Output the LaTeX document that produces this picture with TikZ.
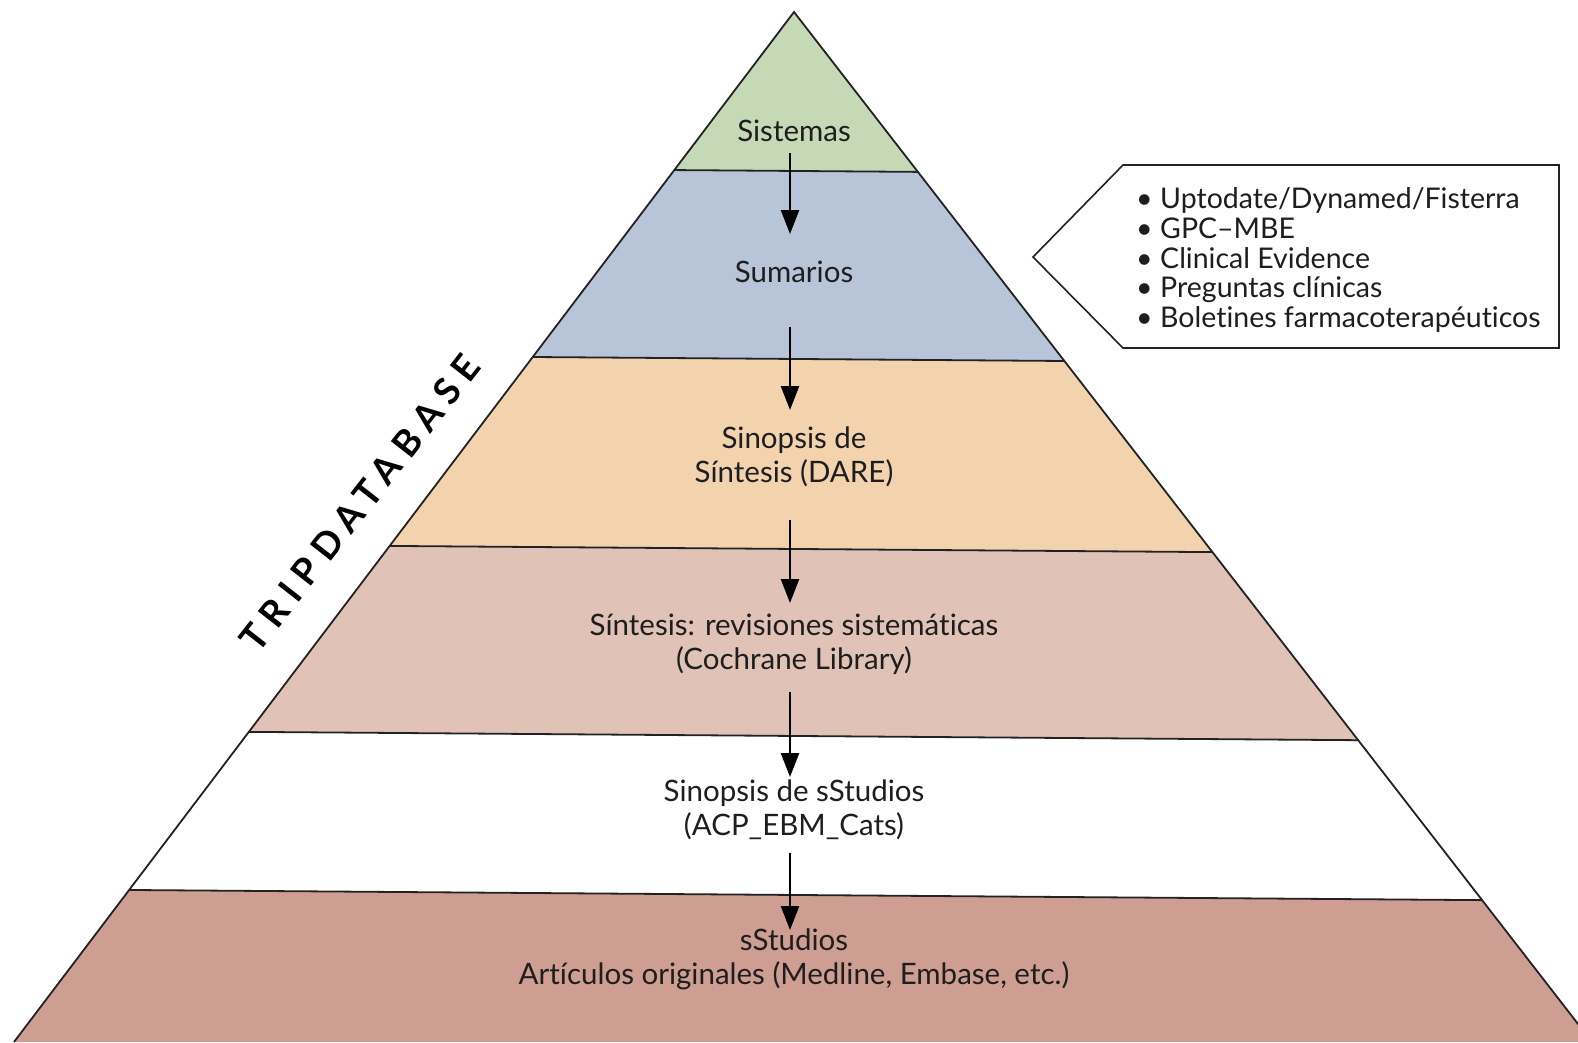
\documentclass[tikz,border=0pt]{standalone}
\usepackage{fontspec}
\setmainfont{Lato}[Ligatures={NoCommon}]
\usetikzlibrary{arrows.meta}
\definecolor{cSis}{HTML}{C6D9B7}
\definecolor{cSum}{HTML}{B8C4D8}
\definecolor{cSin}{HTML}{F2D3AE}
\definecolor{cRev}{HTML}{E0C2B6}
\definecolor{cEst}{HTML}{CF9E92}
\definecolor{cLine}{HTML}{222222}
\definecolor{cText}{HTML}{1E1E1E}
\tikzset{
  lbl/.style={align=center, text=cText, font=\fontsize{29.5}{34}\selectfont, inner sep=0pt},
  itm/.style={anchor=base west, text=cText, font=\fontsize{28.5}{30}\selectfont, inner sep=0pt},
  arr/.style={line width=2.5pt, -{Triangle[length=24pt,width=18pt]}, draw=black},
  bline/.style={line width=1.8pt, draw=cLine},
}
\begin{document}
\begin{tikzpicture}[x=1pt,y=-1pt]
\useasboundingbox (0,0) rectangle (1578,1042);
\fill[white] (0,0) rectangle (1578,1042);
% pyramid layers
\begin{scope}
\clip (794,12) -- (14,1042) -- (1592,1042) -- cycle;
\fill[cSis] (0,-10) -- (1600,-10) -- (1600,177) -- (0,165) -- cycle;
\fill[cSum] (0,165) -- (1600,177) -- (1600,365) -- (0,353) -- cycle;
\fill[cSin] (0,353) -- (1600,365) -- (1600,555) -- (0,543) -- cycle;
\fill[cRev] (0,543) -- (1600,555) -- (1600,742) -- (0,730) -- cycle;
\fill[white] (0,730) -- (1600,742) -- (1600,901) -- (0,889) -- cycle;
\fill[cEst] (0,889) -- (1600,901) -- (1600,1060) -- (0,1060) -- cycle;
\draw[bline] (0,165) -- (1600,177);
\draw[bline] (0,353) -- (1600,365);
\draw[bline] (0,543) -- (1600,555);
\draw[bline] (0,730) -- (1600,742);
\draw[bline] (0,889) -- (1600,901);
\end{scope}
\draw[bline, line join=miter] (14,1042) -- (794,12) -- (1592,1042);
% labels
\node[lbl] (sis) at (794,131) {Sistemas};
\node[lbl] (sum) at (794,272) {Sumarios};
\node[lbl] (sin) at (794,457) {Sinopsis de\\Síntesis (DARE)};
\node[lbl] (rev) at (794,644) {Síntesis: revisiones sistemáticas\\(Cochrane Library)};
\node[lbl] (sie) at (794,810) {Sinopsis de sStudios\\(ACP\_EBM\_Cats)};
\node[lbl] (est) at (794,959) {sStudios\\Artículos originales (Medline, Embase, etc.)};
% arrows
\coordinate (a1s) at (790,153); \coordinate (a1e) at (790,234);
\coordinate (a2s) at (790,327); \coordinate (a2e) at (790,410);
\coordinate (a3s) at (790,520); \coordinate (a3e) at (790,603);
\coordinate (a4s) at (790,692); \coordinate (a4e) at (790,777);
\coordinate (a5s) at (790,853); \coordinate (a5e) at (790,930);
\draw[arr] (a1s) -- (a1e);
\draw[arr] (a2s) -- (a2e);
\draw[arr] (a3s) -- (a3e);
\draw[arr] (a4s) -- (a4e);
\draw[arr] (a5s) -- (a5e);
% TRIPDATABASE
\node[text=black, rotate=52, inner sep=0pt, font=\fontsize{37}{37}\selectfont\bfseries\addfontfeature{LetterSpace=24}] (trip) at (360,503) {TRIPDATABASE};
% callout
\draw[line width=1.6pt, draw=cLine, fill=white, line join=miter] (1123,165) -- (1559,165) -- (1559,348) -- (1123,348) -- (1033,257) -- cycle;
\node[itm] (c1) at (1136,208) {\makebox[24pt][l]{•}Uptodate/Dynamed/Fisterra};
\node[itm] (c2) at (1136,238) {\makebox[24pt][l]{•}GPC–MBE};
\node[itm] (c3) at (1136,268) {\makebox[24pt][l]{•}Clinical Evidence};
\node[itm] (c4) at (1136,297) {\makebox[24pt][l]{•}Preguntas clínicas};
\node[itm] (c5) at (1136,327) {\makebox[24pt][l]{•}Boletines farmacoterapéuticos};
\end{tikzpicture}
\end{document}
